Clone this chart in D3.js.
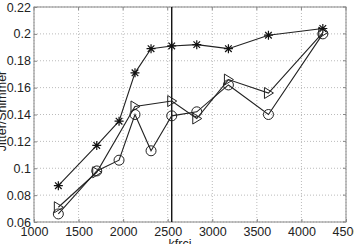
<!DOCTYPE html>
<html>
<head>
<meta charset="utf-8">
<script src="https://cdn.jsdelivr.net/npm/d3@7"></script>
<style>
  body { margin: 0; background: #fff; }
  svg { display: block; font-family: "Liberation Sans", Arial, sans-serif; }
</style>
</head>
<body>
<div id="chart"></div>
<script>
// -------------------- DATA --------------------
const kfrci = [1273, 1704, 1954, 2133, 2313, 2545, 2826, 3181, 3630, 4240];
const starValues = [0.087, 0.117, 0.135, 0.171, 0.189, 0.191, 0.192, 0.189, 0.199, 0.204];
const circleValues = [0.066, 0.098, 0.106, 0.140, 0.113, 0.139, 0.142, 0.162, 0.140, 0.200];
const triangleValues = [0.071, 0.097, null, 0.146, null, 0.150, 0.137, 0.166, 0.156, 0.201];
const markerLine = 2545;
const xTicks = [1000, 1500, 2000, 2500, 3000, 3500, 4000, 4500];
const yTicks = [0.06, 0.08, 0.1, 0.12, 0.14, 0.16, 0.18, 0.2, 0.22];

const W = 354, H = 244;
const margin = { top: 7, right: 8, bottom: 22, left: 34 };
const width = W - margin.left - margin.right,
      height = H - margin.top - margin.bottom;

const svg = d3.select("#chart")
  .append("svg")
  .attr("width", W)
  .attr("height", H)
  .append("g")
  .attr("transform", `translate(${margin.left}, ${margin.top})`);

// -------------------- SCALES --------------------
const x = d3.scaleLinear().domain([1000, 4500]).range([0, width]);
const y = d3.scaleLinear().domain([0.06, 0.22]).range([height, 0]);

// -------------------- GRID --------------------
svg.append("g")
  .selectAll("line")
  .data(xTicks)
  .join("line")
  .attr("x1", d => x(d)).attr("x2", d => x(d))
  .attr("y1", 0).attr("y2", height)
  .attr("stroke", "#bbb")
  .attr("stroke-dasharray", "1,2");

svg.append("g")
  .selectAll("line")
  .data(yTicks)
  .join("line")
  .attr("x1", 0).attr("x2", width)
  .attr("y1", d => y(d)).attr("y2", d => y(d))
  .attr("stroke", "#bbb")
  .attr("stroke-dasharray", "1,2");

// -------------------- AXES --------------------
const xAxis = svg.append("g")
  .attr("transform", `translate(0, ${height})`)
  .call(d3.axisBottom(x).tickValues(xTicks).tickSizeInner(-3).tickSizeOuter(0).tickPadding(5).tickFormat(d3.format("d")));
const yAxis = svg.append("g")
  .call(d3.axisLeft(y).tickValues(yTicks).tickSizeInner(-3).tickSizeOuter(0).tickPadding(3).tickFormat(d => String(+d.toFixed(2))));

[xAxis, yAxis].forEach(a => {
  a.select(".domain").remove();
  a.selectAll(".tick line").attr("stroke", "#888");
  a.selectAll(".tick text").style("font-size", "12.5px").attr("fill", "#222");
});

// box
svg.append("rect")
  .attr("width", width)
  .attr("height", height)
  .attr("fill", "none")
  .attr("stroke", "#888")
  .attr("stroke-width", 1);

// right / top ticks
svg.append("g").selectAll("line").data(yTicks).join("line")
  .attr("x1", width).attr("x2", width - 3)
  .attr("y1", d => y(d)).attr("y2", d => y(d))
  .attr("stroke", "#888");
svg.append("g").selectAll("line").data(xTicks).join("line")
  .attr("x1", d => x(d)).attr("x2", d => x(d))
  .attr("y1", 0).attr("y2", 3)
  .attr("stroke", "#888");

// -------------------- VERTICAL MARKER --------------------
svg.append("line")
  .attr("x1", x(markerLine)).attr("x2", x(markerLine))
  .attr("y1", 0).attr("y2", height)
  .attr("stroke", "#111")
  .attr("stroke-width", 1.4);

// -------------------- SERIES --------------------
function series(values) {
  return kfrci.map((k, i) => ({ k, v: values[i] }));
}

const line = d3.line()
  .defined(d => d.v != null)
  .x(d => x(d.k))
  .y(d => y(d.v));

function drawLine(values) {
  const data = series(values).filter(d => d.v != null);
  svg.append("path")
    .datum(data)
    .attr("d", line)
    .attr("fill", "none")
    .attr("stroke", "#222")
    .attr("stroke-width", 1.1);
  return data;
}

// circles
const circleData = drawLine(circleValues);
svg.append("g").selectAll("circle")
  .data(circleData)
  .join("circle")
  .attr("cx", d => x(d.k))
  .attr("cy", d => y(d.v))
  .attr("r", 5)
  .attr("fill", "none")
  .attr("stroke", "#222")
  .attr("stroke-width", 1);

// triangles (pointing right)
const triData = drawLine(triangleValues);
svg.append("g").selectAll("path")
  .data(triData)
  .join("path")
  .attr("transform", d => `translate(${x(d.k)}, ${y(d.v)})`)
  .attr("d", "M-4,-5.5L5,0L-4,5.5Z")
  .attr("fill", "none")
  .attr("stroke", "#222")
  .attr("stroke-width", 1);

// stars (asterisk)
const starData = drawLine(starValues);
const s = 4.5, sd = 3.3;
svg.append("g").selectAll("path")
  .data(starData)
  .join("path")
  .attr("transform", d => `translate(${x(d.k)}, ${y(d.v)})`)
  .attr("d", `M${-s},0L${s},0M0,${-s}L0,${s}M${-sd},${-sd}L${sd},${sd}M${-sd},${sd}L${sd},${-sd}`)
  .attr("fill", "none")
  .attr("stroke", "#111")
  .attr("stroke-width", 1.2);

// -------------------- LABELS --------------------
svg.append("text")
  .attr("x", 146)
  .attr("y", height + 26)
  .attr("text-anchor", "middle")
  .style("font-size", "12.5px")
  .attr("fill", "#222")
  .text("kfrci");

svg.append("text")
  .attr("transform", `translate(${6 - margin.left}, 104) rotate(-90)`)
  .attr("text-anchor", "middle")
  .style("font-size", "12.5px")
  .attr("fill", "#222")
  .text("Jitter/Shimmer");
</script>
</body>
</html>
